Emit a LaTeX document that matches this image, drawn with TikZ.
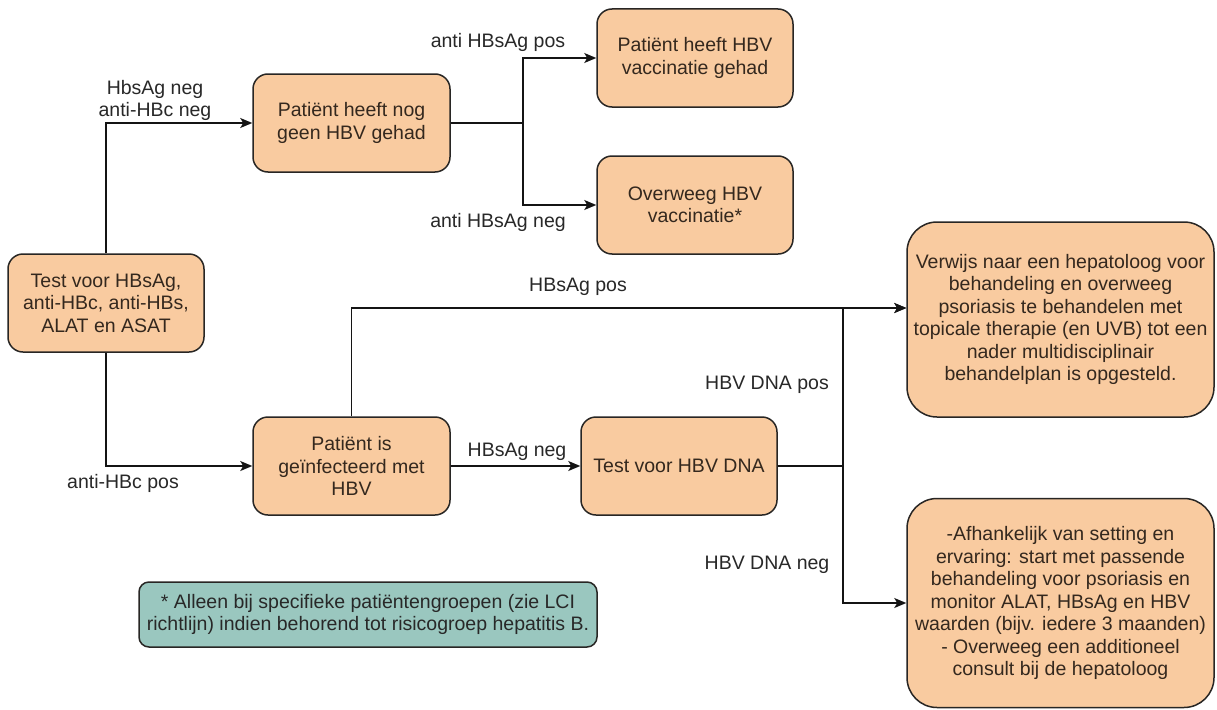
\documentclass[tikz,border=0pt]{standalone}
\usepackage{fontspec}
\setmainfont{Liberation Sans}
\usetikzlibrary{arrows.meta}
\definecolor{boxfill}{RGB}{249,203,160}
\definecolor{notefill}{RGB}{154,199,191}
\definecolor{boxline}{RGB}{40,38,36}
\definecolor{boxtext}{RGB}{52,40,30}
\definecolor{lbltext}{RGB}{40,40,40}
\definecolor{linecol}{RGB}{20,20,20}
\begin{document}
\begin{tikzpicture}[x=1pt,y=-1pt,
  box/.style={draw=boxline, line width=1.5pt, fill=boxfill, rounded corners=15pt,
    inner sep=0pt, align=center, text=boxtext, font=\fontsize{19.5}{22.5}\selectfont},
  bigbox/.style={box, rounded corners=30pt, minimum width=307pt},
  notebox/.style={box, fill=notefill, rounded corners=10pt, text=lbltext},
  lbl/.style={text=lbltext, inner sep=0pt, align=center, font=\fontsize{19.5}{22.5}\selectfont},
  arr/.style={-{Stealth[length=12pt,width=10pt,inset=3pt]}, line width=1.4pt, draw=linecol},
  ln/.style={line width=1.4pt, draw=linecol}]
\useasboundingbox (0,0) rectangle (1217,709);
\fill[white] (0,0) rectangle (1217,709);

% boxes
\node[box, minimum width=196pt, minimum height=98pt] (test) at (106,303)
  {Test voor HBsAg,\\anti-HBc, anti-HBs,\\ALAT en ASAT};
\node[box, minimum width=197pt, minimum height=98pt] (nohbv) at (351.5,123)
  {Patiënt heeft nog\\geen HBV gehad};
\node[box, minimum width=196pt, minimum height=98pt] (vacc) at (695,58)
  {Patiënt heeft HBV\\vaccinatie gehad};
\node[box, minimum width=196pt, minimum height=98pt] (overweeg) at (695,205)
  {Overweeg HBV\\vaccinatie*};
\node[box, minimum width=197pt, minimum height=98pt] (inf) at (351.5,466)
  {Patiënt is\\geïnfecteerd met\\HBV};
\node[box, minimum width=196pt, minimum height=98pt] (dna) at (679,466)
  {Test voor HBV DNA};
\node[bigbox, minimum height=195pt] (verwijs) at (1060.5,319.5)
  {Verwijs naar een hepatoloog voor\\behandeling en overweeg\\psoriasis te behandelen met\\topicale therapie (en UVB) tot een\\nader multidisciplinair\\behandelplan is opgesteld.};
\node[bigbox, minimum height=209pt] (afh) at (1060.5,603)
  {-Afhankelijk van setting en\\ervaring: start met passende\\behandeling voor psoriasis en\\monitor ALAT, HBsAg en HBV\\waarden (bijv. iedere 3 maanden)\\- Overweeg een additioneel\\consult bij de hepatoloog};
\node[notebox, minimum width=458pt, minimum height=65pt] (note) at (368,614.5)
  {* Alleen bij specifieke patiëntengroepen (zie LCI\\richtlijn) indien behorend tot risicogroep hepatitis B.};

% junction points
\coordinate (b1) at (523,123);
\coordinate (j) at (843,466);
\coordinate[yshift=11.5pt] (vin) at (verwijs.west);

% connectors
\draw[arr] (test.north) |- (nohbv.west);
\draw[arr] (test.south) |- (inf.west);
\draw[ln] (nohbv.east) -- (b1);
\draw[arr] (b1) |- (vacc.west);
\draw[arr] (b1) |- (overweeg.west);
\draw[arr] (inf.north) |- (vin);
\draw[arr] (inf.east) -- (dna.west);
\draw[ln] (dna.east) -- (j);
\draw[arr] (j) |- (vin);
\draw[arr] (j) |- (afh.west);

% labels
\node[lbl] (l1) at (155,100.5) {HbsAg neg\\anti-HBc neg};
\node[lbl] (l2) at (123,483) {anti-HBc pos};
\node[lbl] (l3) at (498,42) {anti HBsAg pos};
\node[lbl] (l4) at (498,222) {anti HBsAg neg};
\node[lbl] (l5) at (578,287) {HBsAg pos};
\node[lbl] (l6) at (517,452) {HBsAg neg};
\node[lbl] (l7) at (767,385) {HBV DNA pos};
\node[lbl] (l8) at (767,565) {HBV DNA neg};
\end{tikzpicture}
\end{document}
